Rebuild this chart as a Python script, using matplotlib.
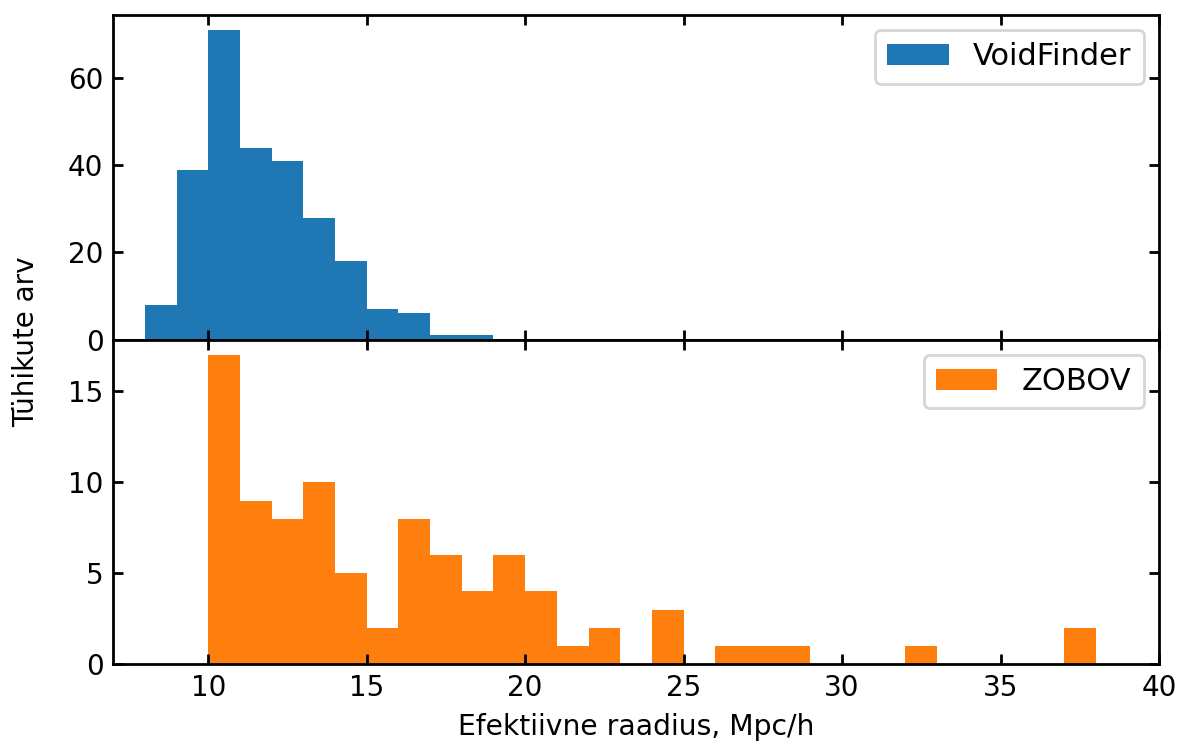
import matplotlib
matplotlib.use("Agg")
import matplotlib.pyplot as plt

# histogram bin edges (left side) and counts, bin width 1 Mpc/h
vf_left = [8, 9, 10, 11, 12, 13, 14, 15, 16, 17, 18]
vf_counts = [8, 39, 71, 44, 41, 28, 18, 7, 6, 1, 1]

zb_left = list(range(10, 38))
zb_counts = [17, 9, 8, 10, 5, 2, 8, 6, 4, 6, 4, 1, 2, 0, 3, 0,
             1, 1, 1, 0, 0, 0, 1, 0, 0, 0, 0, 2]

fig, (ax1, ax2) = plt.subplots(2, 1, sharex=True, figsize=(5.895, 3.715), dpi=200)
fig.subplots_adjust(left=0.096, right=0.983, top=0.980, bottom=0.106, hspace=0)

ax1.bar(vf_left, vf_counts, width=1, align='edge', color='tab:blue', label='VoidFinder')
ax2.bar(zb_left, zb_counts, width=1, align='edge', color='tab:orange', label='ZOBOV')

for ax in (ax1, ax2):
    ax.tick_params(direction='in', top=True, right=True, length=3.5, width=1)
    ax.legend(loc='upper right', fontsize=11)
    for s in ax.spines.values():
        s.set_linewidth(1)

ax1.set_yticks([0, 20, 40, 60])
ax2.set_yticks([0, 5, 10, 15])
ax2.set_xlim(7, 40)
ax2.set_xlabel('Efektiivne raadius, Mpc/h', fontsize=10.2)
fig.text(0.022, 0.54, 'Tühikute arv', rotation=90, va='center', ha='center', fontsize=10)

fig.savefig('out.png', dpi=200)
